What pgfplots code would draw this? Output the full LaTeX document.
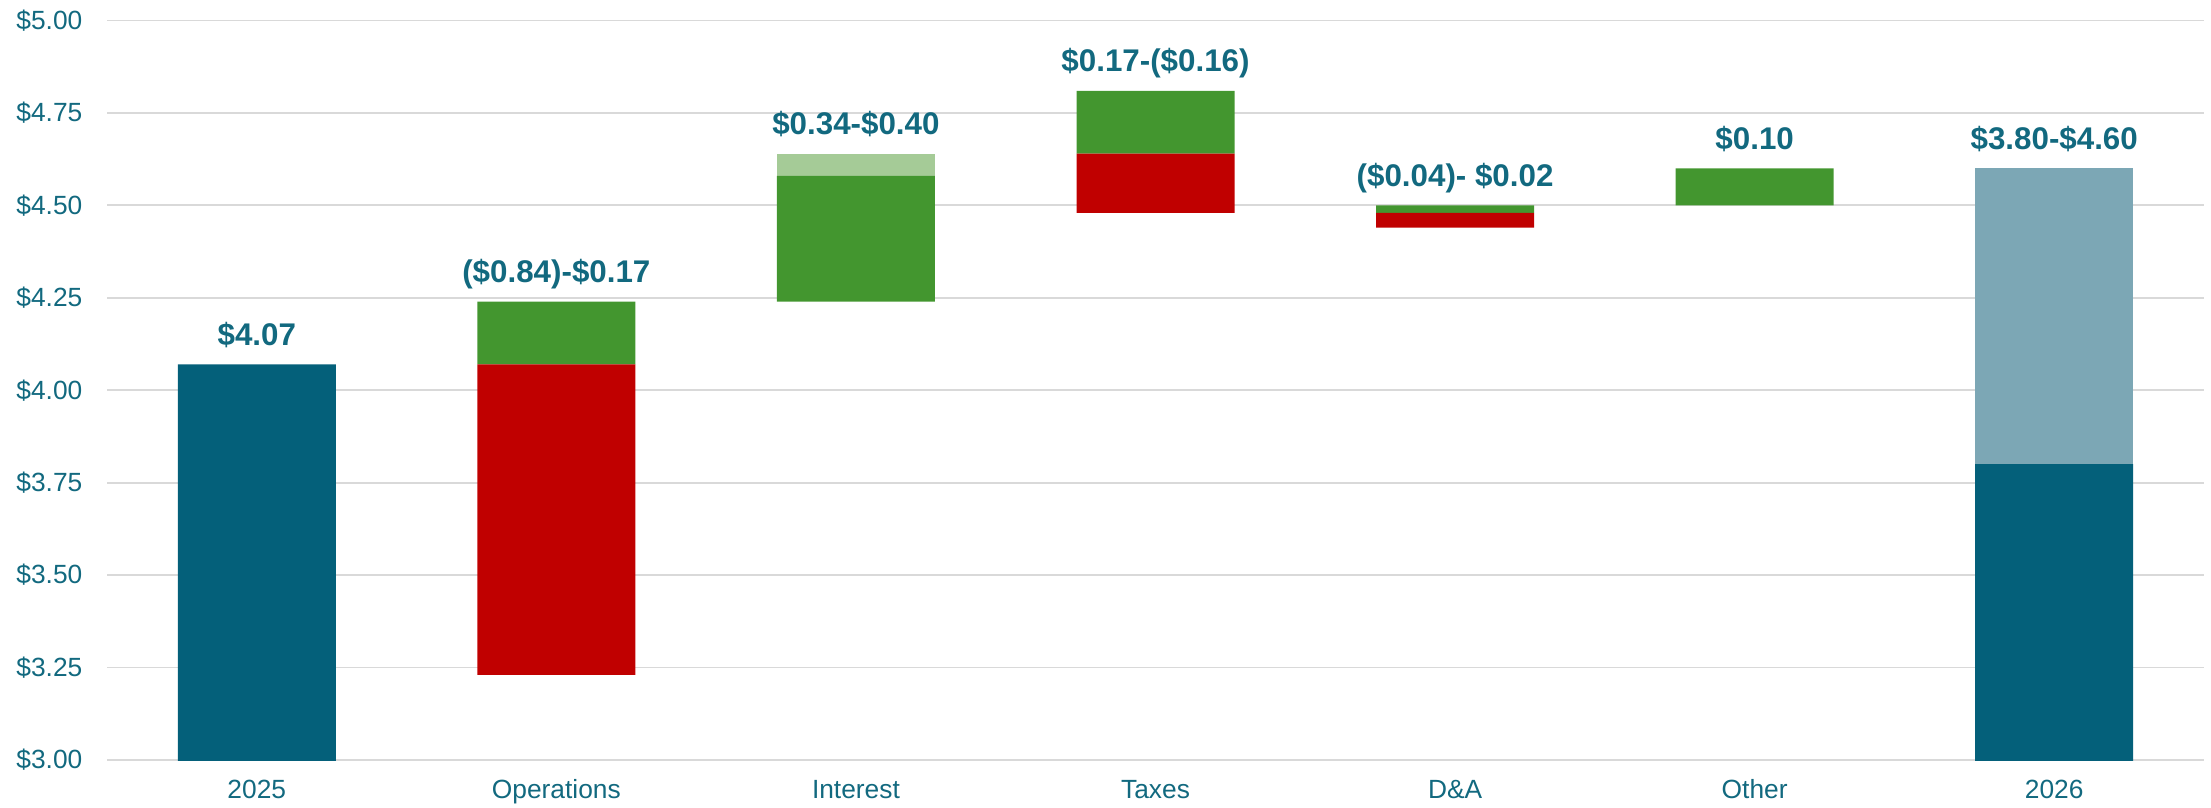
\documentclass[border=0pt]{standalone}
\usepackage{pgfplots}
\pgfplotsset{compat=1.18}
\usepackage{fontspec}
\setmainfont{Liberation Sans}
\definecolor{dteal}{HTML}{04607A}
\definecolor{lteal}{HTML}{7CA7B5}
\definecolor{bred}{HTML}{C00000}
\definecolor{bgreen}{HTML}{43962F}
\definecolor{lgreen}{HTML}{A5CB97}
\definecolor{txt}{HTML}{12697F}
\definecolor{gridc}{HTML}{D9D9D9}
\begin{document}
\begin{tikzpicture}
\path[use as bounding box] (-32.1pt,-14.1pt) rectangle (631.2pt,228pt);
\begin{axis}[
  at={(0,0)}, anchor=south west,
  scale only axis, width=629.1pt, height=221.85pt,
  ybar stacked, bar width=47.4pt,
  xmin=-0.5, xmax=6.5, ymin=3, ymax=5,
  xtick={0,1,2,3,4,5,6},
  xticklabels={2025,Operations,Interest,Taxes,D\&A,Other,2026},
  ytick={3,3.25,3.5,3.75,4,4.25,4.5,4.75,5},
  yticklabels={\$3.00,\$3.25,\$3.50,\$3.75,\$4.00,\$4.25,\$4.50,\$4.75,\$5.00},
  ymajorgrids, grid style={draw=gridc, line width=0.55pt},
  axis line style={draw=none},
  major tick length=0pt,
  tick label style={font=\fontsize{7.9}{9}\selectfont, text=txt},
  yticklabel style={anchor=east, inner sep=0pt, xshift=-7.2pt},
  xticklabel style={anchor=base, inner sep=0pt, yshift=-11.4pt},
]
% invisible base
\addplot[fill=none, draw=none] coordinates {(0,0) (1,3.23) (2,4.24) (3,4.48) (4,4.44) (5,4.50) (6,0)};
% dark teal
\addplot[fill=dteal, draw=none] coordinates {(0,4.07) (1,0) (2,0) (3,0) (4,0) (5,0) (6,3.80)};
% red
\addplot[fill=bred, draw=none] coordinates {(0,0) (1,0.84) (2,0) (3,0.16) (4,0.04) (5,0) (6,0)};
% green
\addplot[fill=bgreen, draw=none] coordinates {(0,0) (1,0.17) (2,0.34) (3,0.17) (4,0.02) (5,0.10) (6,0)};
% light green
\addplot[fill=lgreen, draw=none] coordinates {(0,0) (1,0) (2,0.06) (3,0) (4,0) (5,0) (6,0)};
% light teal
\addplot[fill=lteal, draw=none] coordinates {(0,0) (1,0) (2,0) (3,0) (4,0) (5,0) (6,0.80)};
\tikzset{lbl/.style={anchor=base, inner sep=0pt, yshift=5.7pt, text=txt, font=\bfseries\fontsize{9.4}{11}\selectfont}}
\node[lbl] at (axis cs:0,4.07) {\$4.07};
\node[lbl] at (axis cs:1,4.24) {(\$0.84)-\$0.17};
\node[lbl] at (axis cs:2,4.64) {\$0.34-\$0.40};
\node[lbl] at (axis cs:3,4.81) {\$0.17-(\$0.16)};
\node[lbl] at (axis cs:4,4.50) {(\$0.04)- \$0.02};
\node[lbl] at (axis cs:5,4.60) {\$0.10};
\node[lbl] at (axis cs:6,4.60) {\$3.80-\$4.60};
\end{axis}
\end{tikzpicture}
\end{document}
